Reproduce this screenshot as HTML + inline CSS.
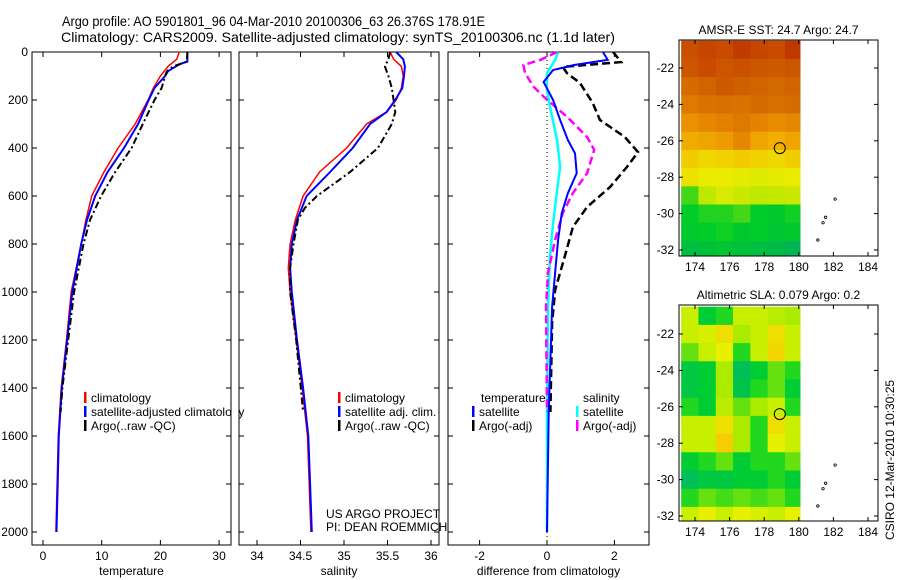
<!DOCTYPE html>
<html><head><meta charset="utf-8"><style>
html,body{margin:0;padding:0;background:#fff;}
svg{display:block;font-family:"Liberation Sans",sans-serif;}
text{font-size:12px;fill:#000;}
</style></head><body>
<svg id="fig" width="900" height="580" viewBox="0 0 900 580">
<text x="62" y="26" textLength="423" lengthAdjust="spacingAndGlyphs" style="font-size:14px">Argo profile: AO 5901801_96 04-Mar-2010 20100306_63 26.376S 178.91E</text>
<text x="61" y="42" textLength="554" lengthAdjust="spacingAndGlyphs" style="font-size:14px">Climatology: CARS2009. Satellite-adjusted climatology: synTS_20100306.nc (1.1d later)</text>
<g id="g"></g>
<text x="326" y="518">US ARGO PROJECT</text>
<text x="326" y="531">PI: DEAN ROEMMICH</text>
<text transform="translate(894,460) rotate(-90)" text-anchor="middle">CSIRO 12-Mar-2010 10:30:25</text>
</svg>
<script>
// ---------- data ----------
const depthTicks=[0,200,400,600,800,1000,1200,1400,1600,1800,2000];
const tempTicks=[0,10,20,30];
const salTicks=[34,34.5,35,35.5,36];
const diffTicks=[-2,0,2];
const latTicks=[-22,-24,-26,-28,-30,-32];
const lonTicks=[174,176,178,180,182,184];

const tClimD=[0,30,60,100,150,200,300,400,500,600,700,800,1000,1200,1400,1600,1800,2000];
const tClim=[23.2,22.8,21.3,20,18.8,17.9,15.7,12.8,10.4,8.3,7.3,6.5,4.8,4,3.1,2.6,2.4,2.2];
const tSatD=[0,40,50,80,100,150,200,300,400,500,600,700,800,1000,1200,1400,1600,1800,2000];
const tSat=[24.6,24.6,23.3,21.3,20.8,19,18,16.2,13.8,11,8.9,7.5,6.5,5,4.1,3.2,2.7,2.5,2.3];
const tArgoD=[0,40,60,80,100,150,200,300,400,500,600,700,800,1000,1200,1400,1500];
const tArgo=[24.6,24.5,22.2,21.1,20.8,20.2,19,17,15.1,12.3,9.9,8,6.9,5.3,4.3,3.3,3.0];

const sClimD=[0,30,60,100,150,200,250,300,400,500,600,700,800,900,1000,1200,1400,1600,1800,2000];
const sClim=[35.53,35.57,35.66,35.68,35.66,35.6,35.49,35.26,35.03,34.72,34.53,34.44,34.38,34.36,34.38,34.45,34.52,34.58,34.6,34.62];
const sSatD=[0,30,60,100,150,200,250,300,400,500,600,700,800,900,1000,1200,1400,1600,1800,2000];
const sSat=[35.6,35.68,35.7,35.69,35.67,35.59,35.49,35.3,35.1,34.84,34.57,34.46,34.4,34.38,34.4,34.46,34.53,34.59,34.61,34.63];
const sArgoD=[0,30,60,100,150,200,250,300,400,500,600,650,700,800,900,1000,1200,1500];
const sArgo=[35.53,35.51,35.47,35.51,35.55,35.57,35.59,35.55,35.39,35.07,34.69,34.55,34.47,34.42,34.38,34.38,34.45,34.53];

const dTSatD=[0,33,54,75,125,200,283,367,422,505,588,671,783,921,1062,1500,2000];
const dTSat=[1.66,1.8,0.8,0.18,-0.1,0.18,0.39,0.62,0.83,0.88,0.62,0.44,0.33,0.24,0.15,0.05,0];
const dSSatD=[0,33,88,158,229,367,479,575,713,850,1062,1500,2000];
const dSSat=[0.33,0.24,0,0,0.09,0.3,0.39,0.3,0.18,0.09,0.03,0,0];
const dSArgoD=[0,33,54,88,144,186,271,354,408,505,588,671,783,921,1062,1500];
const dSArgo=[0.3,-0.2,-0.7,-0.65,-0.4,-0.1,0.6,1.19,1.4,1.19,0.77,0.47,0.24,0.03,-0.03,0];
const dTArgoD=[0,42,62,88,129,213,283,354,417,479,563,646,729,850,992,1129,1500];
const dTArgo=[1.96,2.2,0.47,0.59,0.98,1.36,1.57,2.31,2.7,2.37,1.87,1.19,0.77,0.53,0.24,0.15,0.1];

// heatmaps: 1-degree cells, lon 173.2..180.2, lat -20.5..-32.5
const mapLons=[173.2,174.2,175.2,176.2,177.2,178.2,179.2];
const mapLats=[-20.5,-21.5,-22.5,-23.5,-24.5,-25.5,-26.5,-27.5,-28.5,-29.5,-30.5,-31.5];
const sstGrid=[
[28.4,28.6,28.5,28.8,28.6,28.5,28.9],
[28.3,28.5,28.3,28.4,28.3,28.2,28.3],
[27.8,28.0,28.2,28.1,28.0,27.9,28.0],
[27.4,27.6,27.7,27.6,27.8,27.7,27.8],
[26.8,27.0,27.2,27.4,27.1,26.9,27.0],
[26.3,26.4,26.6,27.0,26.4,26.2,26.4],
[25.6,25.4,25.5,25.6,25.5,25.4,25.6],
[25.2,25.0,25.0,24.9,24.8,24.9,25.0],
[23.4,24.3,24.7,24.5,24.3,24.4,24.5],
[23.0,23.2,23.2,23.4,23.0,22.9,23.1],
[22.9,23.0,23.1,22.9,23.0,22.8,22.9],
[22.6,22.7,22.8,22.7,22.6,22.5,22.3]];
const slaGrid=[
[0.6,0.2,0.3,0.6,0.6,0.55,0.5],
[0.6,0.65,0.8,0.5,0.6,0.8,0.6],
[0.4,0.6,0.7,0.3,0.6,0.85,0.6],
[0.15,0.2,0.5,0.05,0.2,0.4,0.3],
[0.15,0.2,0.5,0.1,0.3,0.4,0.2],
[0.3,0.2,0.55,0.4,0.5,0.6,0.3],
[0.6,0.6,0.8,0.5,0.3,0.8,0.6],
[0.6,0.6,0.9,0.5,0.3,0.7,0.6],
[0.2,0.3,0.4,0.2,0.3,0.3,0.4],
[0.05,0.15,0.15,0.2,0.2,0.3,0.2],
[0.3,0.4,0.35,0.4,0.35,0.4,0.3],
[0.6,0.7,0.6,0.7,0.65,0.6,0.7]];
const floatPos=[178.9,-26.4];

// ---------- helpers ----------
const NS='http://www.w3.org/2000/svg';
const G=document.getElementById('g');
function mk(tag,attrs,parent){const e=document.createElementNS(NS,tag);for(const k in attrs)e.setAttribute(k,attrs[k]);(parent||G).appendChild(e);return e;}
const yD=d=>52+0.24*d;
const xT=v=>43+5.87*v;
const xS=v=>257+87*(v-34);
const xDf=v=>547+33.7*v;
const TOP=52,BOT=545;

function frame(x0,x1,name,xf,ticks,label,showDepthLabels){
  const r=mk('rect',{x:x0,y:TOP,width:x1-x0,height:BOT-TOP,fill:'none',stroke:'#000','stroke-width':1});
  
  
  depthTicks.forEach(d=>{
    mk('line',{x1:x0,x2:x0+5,y1:yD(d),y2:yD(d),stroke:'#000'});
    mk('line',{x1:x1-5,x2:x1,y1:yD(d),y2:yD(d),stroke:'#000'});
    if(showDepthLabels){const t=mk('text',{x:x0-4,y:yD(d)+4,'text-anchor':'end'});t.textContent=d;
      
      }
  });
  ticks.forEach(v=>{const x=xf(v);
    mk('line',{x1:x,x2:x,y1:TOP,y2:TOP+5,stroke:'#000'});
    mk('line',{x1:x,x2:x,y1:BOT-5,y2:BOT,stroke:'#000'});
    const t=mk('text',{x:x,y:BOT+15,'text-anchor':'middle'});t.textContent=v;
    
    
  });
  const t=mk('text',{x:(x0+x1)/2,y:BOT+30,'text-anchor':'middle'});t.textContent=label;
  
  
}
function line(xf,vals,depths,color,w,dash,name){
  const pts=vals.map((v,i)=>xf(v).toFixed(1)+','+yD(depths[i]).toFixed(1)).join(' ');
  const p=mk('polyline',{points:pts,fill:'none',stroke:color,'stroke-width':w,'stroke-dasharray':dash||'none'});
  
  
}
function legend(x,y,color,label,name){
  mk('rect',{x:x,y:y-10,width:2.5,height:11,fill:color});
  const t=mk('text',{x:x+7,y:y});t.textContent=label;
  
  
}

// ---------- panel 1 ----------
frame(32,231,'temperature',xT,tempTicks,'temperature',true);
line(xT,tClim,tClimD,'#f00',1.5,null,'temp-climatology-line');
line(xT,tSat,tSatD,'#00f',2,null,'temp-satellite-line');
line(xT,tArgo,tArgoD,'#000',2,'7,3,2,3','temp-argo-line');
legend(84,402,'#f00','climatology','legend-climatology');
legend(84,416,'#00f','satellite-adjusted climatology','legend-satellite');
legend(84,430,'#000','Argo(..raw -QC)','legend-argo');
mk('rect',{x:232,y:390,width:6,height:45,fill:'#fff'});

// ---------- panel 2 ----------
frame(239,439,'salinity',xS,salTicks,'salinity',false);
line(xS,sClim,sClimD,'#f00',1.5,null,'sal-climatology-line');
line(xS,sSat,sSatD,'#00f',2,null,'sal-satellite-line');
line(xS,sArgo,sArgoD,'#000',2,'7,3,2,3','sal-argo-line');
legend(338,402,'#f00','climatology','legend-sal-climatology');
legend(338,416,'#00f','satellite adj. clim.','legend-sal-satellite');
legend(338,430,'#000','Argo(..raw -QC)','legend-sal-argo');

// ---------- panel 3 ----------
frame(448,649,'difference',xDf,diffTicks,'difference from climatology',false);
mk('line',{x1:xDf(0),x2:xDf(0),y1:TOP,y2:BOT,stroke:'#000','stroke-width':1,'stroke-dasharray':'1,3'});
line(xDf,dSSat,dSSatD,'#0ff',2.5,null,'diff-sal-satellite-line');
line(xDf,dSArgo,dSArgoD,'#f0f',2.5,'8,4','diff-sal-argo-line');
line(xDf,dTArgo,dTArgoD,'#000',2.5,'8,4','diff-temp-argo-line');
line(xDf,dTSat,dTSatD,'#00f',2,null,'diff-temp-satellite-line');
{const t=mk('text',{x:481,y:402});t.textContent='temperature';
 
 
 const s=mk('text',{x:583,y:402});s.textContent='salinity';
 
 }
legend(472,416,'#00f','satellite','legend-diff-temp-sat');
legend(472,430,'#000','Argo(-adj)','legend-diff-temp-argo');
legend(576,416,'#0ff','satellite','legend-diff-sal-sat');
legend(576,430,'#f0f','Argo(-adj)','legend-diff-sal-argo');

// ---------- maps ----------
function sstColor(v){
  const stops=[[22,[0,170,100]],[23,[0,205,40]],[24,[170,230,0]],[25,[235,235,0]],[26,[245,185,0]],[27,[230,135,0]],[28,[210,100,0]],[29,[190,50,0]]];
  return interpC(stops,v);}
function slaColor(v){
  const stops=[[0,[0,185,100]],[0.25,[0,210,40]],[0.5,[170,235,0]],[0.7,[230,240,0]],[0.9,[245,205,0]]];
  return interpC(stops,v);}
function interpC(stops,v){
  if(v<=stops[0][0])return 'rgb('+stops[0][1]+')';
  for(let i=1;i<stops.length;i++){if(v<=stops[i][0]){const a=stops[i-1],b=stops[i],f=(v-a[0])/(b[0]-a[0]);
    return 'rgb('+a[1].map((c,k)=>Math.round(c+(b[1][k]-c)*f)).join(',')+')';}}
  return 'rgb('+stops[stops.length-1][1]+')';}

function mapPanel(y0,y1,latAt22,latAt32,grid,cf,title,name){
  const x0=679,x1=878;
  const xL=lon=>695+(lon-174)*17.3;
  const yL=lat=>latAt22+(lat+22)*(latAt32-latAt22)/(-10);
  grid.forEach((row,i)=>row.forEach((v,j)=>{
    const xa=xL(mapLons[j]),xb=Math.min(xL(mapLons[j]+1),800);
    const ya=Math.max(yL(mapLats[i]),y0),yb=Math.min(yL(mapLats[i]-1),y1);
    const c=mk('rect',{x:xa,y:ya,width:xb-xa+0.5,height:yb-ya+0.5,fill:cf(v)});
    
    
  }));
  const fr=mk('rect',{x:x0,y:y0,width:x1-x0,height:y1-y0,fill:'none',stroke:'#000'});
  
  
  latTicks.forEach(l=>{const y=yL(l);
    mk('line',{x1:x0,x2:x0+4,y1:y,y2:y,stroke:'#000'});mk('line',{x1:x1-4,x2:x1,y1:y,y2:y,stroke:'#000'});
    const t=mk('text',{x:x0-5,y:y+4,'text-anchor':'end'});t.textContent=l;
    
    });
  lonTicks.forEach(l=>{const x=xL(l);
    mk('line',{x1:x,x2:x,y1:y0,y2:y0+4,stroke:'#000'});mk('line',{x1:x,x2:x,y1:y1-4,y2:y1,stroke:'#000'});
    const t=mk('text',{x:x,y:y1+15,'text-anchor':'middle'});t.textContent=l;
    
    });
  const tt=mk('text',{x:(x0+x1)/2,y:y0-6,'text-anchor':'middle'});tt.textContent=title;
  
  
  const fp=mk('circle',{cx:xL(floatPos[0]),cy:yL(floatPos[1]),r:5.5,fill:'none',stroke:'#000','stroke-width':1});
  
  
  [[182.1,-29.2],[181.55,-30.2],[181.4,-30.5],[181.1,-31.45]].forEach(p=>{
    mk('circle',{cx:xL(p[0]),cy:yL(p[1]),r:1.2,fill:'none',stroke:'#000','stroke-width':0.8});});
}
mapPanel(40,256,68,250,sstGrid,sstColor,'AMSR-E SST: 24.7 Argo: 24.7','sst-map');
mapPanel(305,521,334,516,slaGrid,slaColor,'Altimetric SLA: 0.079 Argo: 0.2','sla-map');
</script>
</body></html>
